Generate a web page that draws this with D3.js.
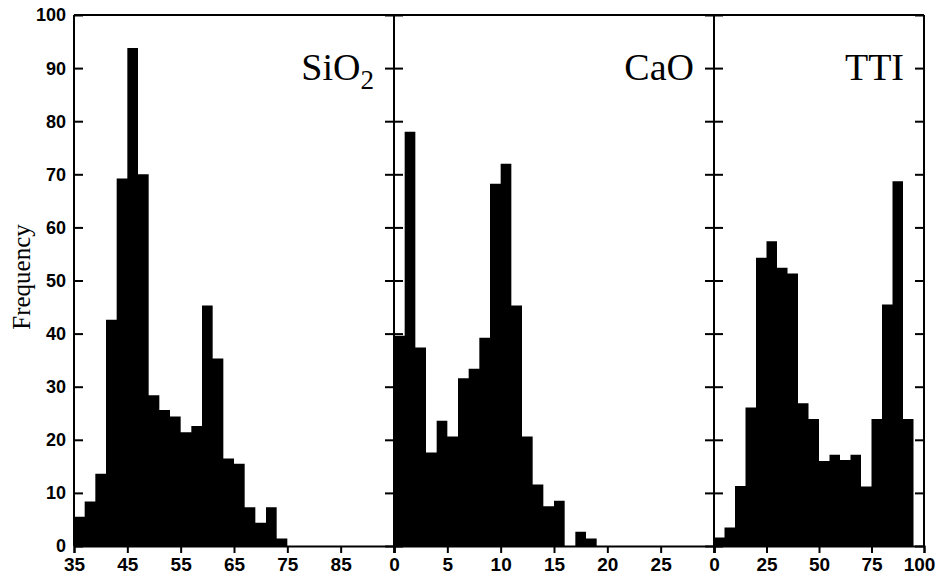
<!DOCTYPE html>
<html>
<head>
<meta charset="utf-8">
<script src="https://cdn.jsdelivr.net/npm/d3@7"></script>
<style>
  html, body { margin: 0; padding: 0; background: #fff; }
  svg { display: block; }
</style>
</head>
<body>
<svg id="chart" width="938" height="581"></svg>
<script>
// ---- Data ----
const sio2BinStart = [35,37,39,41,43,45,47,49,51,53,55,57,59,61,63,65,67,69,71,73];
const sio2Counts   = [5.5,8.4,13.6,42.6,69.2,93.8,70.0,28.4,25.6,24.4,21.4,22.6,45.3,35.3,16.5,15.5,7.3,4.4,7.3,1.4];
const sio2BinWidth = 2;

const caoBinStart = [0,1,2,3,4,5,6,7,8,9,10,11,12,13,14,15,16,17,18];
const caoCounts   = [39.6,78.0,37.4,17.6,23.6,20.6,31.6,33.4,39.2,68.2,72.0,45.3,20.6,11.6,7.5,8.5,0,2.7,1.4];
const caoBinWidth = 1;

const ttiBinStart = [0,5,10,15,20,25,30,35,40,45,50,55,60,65,70,75,80,85,90];
const ttiCounts   = [1.6,3.5,11.3,26.1,54.3,57.4,52.4,51.3,26.9,23.9,16.0,17.2,16.2,17.2,11.2,23.9,45.5,68.7,23.9];
const ttiBinWidth = 5;

const yTicks = [0,10,20,30,40,50,60,70,80,90,100];
const sio2Ticks = [35,45,55,65,75,85];
const caoTicks  = [0,5,10,15,20,25];
const ttiTicks  = [0,25,50,75,100];

const panels = [
  { label: "SiO", sub: "2", domain: [35,95], range: [74,394], starts: sio2BinStart, counts: sio2Counts, w: sio2BinWidth, ticks: sio2Ticks, minorTicks: [95] },
  { label: "CaO", sub: null, domain: [0,30], range: [394,714], starts: caoBinStart, counts: caoCounts, w: caoBinWidth, ticks: caoTicks, minorTicks: [30] },
  { label: "TTI", sub: null, domain: [0,100], range: [714,924], starts: ttiBinStart, counts: ttiCounts, w: ttiBinWidth, ticks: ttiTicks, minorTicks: [] }
];

// ---- Drawing ----
const svg = d3.select("#chart");
const y = d3.scaleLinear().domain([0,100]).range([546,15]);
const tickFont = "'Liberation Sans', Arial, sans-serif";
const serif = "'Liberation Serif', 'Times New Roman', serif";

panels.forEach((p, i) => {
  const x = d3.scaleLinear().domain(p.domain).range(p.range);
  const g = svg.append("g");

  // histogram drawn as a single stepped area (no seams between bars)
  const pts = [];
  p.starts.forEach((s, k) => {
    pts.push([s, p.counts[k]]);
    pts.push([s + p.w, p.counts[k]]);
  });
  const area = d3.area()
    .x(d => x(d[0]))
    .y0(y(0))
    .y1(d => y(d[1]));
  g.append("path")
    .datum(pts)
    .attr("d", area)
    .attr("fill", "#000");

  // bottom axis
  const xAxis = d3.axisBottom(x).tickValues(p.ticks.concat(p.minorTicks))
    .tickSize(7).tickPadding(5)
    .tickFormat(d => p.ticks.includes(d) ? d : "");
  const ax = g.append("g").attr("transform", `translate(0,${y(0)})`).call(xAxis);
  ax.select(".domain").attr("stroke-width", 2);
  ax.selectAll(".tick line").attr("stroke-width", 2);
  ax.selectAll("text").attr("font-family", tickFont).attr("font-weight", "bold")
    .attr("font-size", 19).attr("fill", "#000")
    .attr("dx", d => (d === p.domain[1] && i === panels.length - 1) ? -5 : 0);

  // left axis (inward ticks)
  const lAxis = d3.axisRight(y).tickValues(yTicks).tickSize(9).tickFormat("");
  const la = g.append("g").attr("transform", `translate(${p.range[0]},0)`).call(lAxis);
  la.select(".domain").remove();
  la.selectAll(".tick line").attr("stroke-width", 2);
  // right axis (inward ticks)
  const rAxis = d3.axisLeft(y).tickValues(yTicks).tickSize(9).tickFormat("");
  const ra = g.append("g").attr("transform", `translate(${p.range[1]},0)`).call(rAxis);
  ra.select(".domain").remove();
  ra.selectAll(".tick line").attr("stroke-width", 2);

  // frame lines
  g.append("line").attr("x1", p.range[0]).attr("x2", p.range[0]).attr("y1", y(100)).attr("y2", y(0))
    .attr("stroke", "#000").attr("stroke-width", 2);
  g.append("line").attr("x1", p.range[1]).attr("x2", p.range[1]).attr("y1", y(100)).attr("y2", y(0))
    .attr("stroke", "#000").attr("stroke-width", 2);
  g.append("line").attr("x1", p.range[0]).attr("x2", p.range[1]).attr("y1", y(100)).attr("y2", y(100))
    .attr("stroke", "#000").attr("stroke-width", 2);

  // panel label
  const t = g.append("text")
    .attr("x", p.range[1] - 20).attr("y", 80)
    .attr("text-anchor", "end")
    .attr("font-family", serif).attr("font-size", 38).attr("fill", "#000")
    .text(p.label);
  if (p.sub) {
    t.append("tspan").attr("font-size", 27).attr("dy", 9).text(p.sub);
  }
});

// y tick labels (left only)
svg.append("g").selectAll("text")
  .data(yTicks)
  .join("text")
  .attr("x", 66).attr("y", d => y(d))
  .attr("dy", "0.36em")
  .attr("text-anchor", "end")
  .attr("font-family", tickFont).attr("font-weight", "bold").attr("font-size", 18)
  .text(d => d);

// y axis title
svg.append("text")
  .attr("transform", "translate(30,277) rotate(-90)")
  .attr("text-anchor", "middle")
  .attr("font-family", serif).attr("font-size", 25)
  .text("Frequency");
</script>
</body>
</html>
